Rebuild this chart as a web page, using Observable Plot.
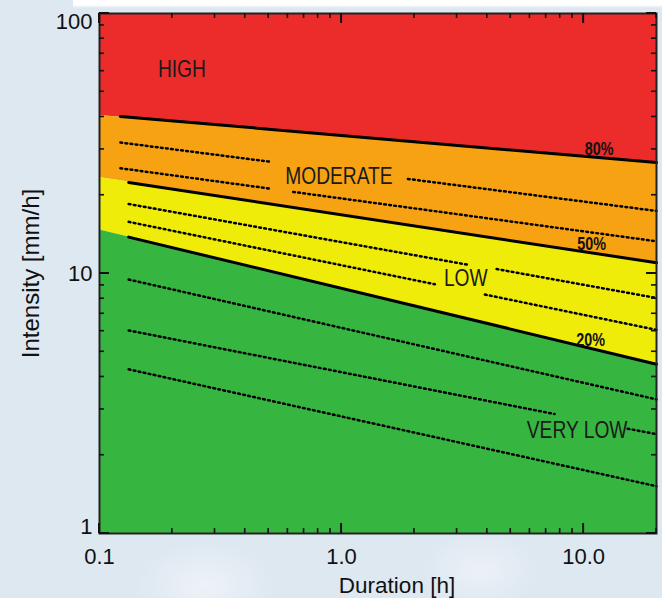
<!DOCTYPE html>
<html>
<head>
<meta charset="utf-8">
<script src="https://cdn.jsdelivr.net/npm/d3@7"></script>
<script src="https://cdn.jsdelivr.net/npm/@observablehq/plot@0.6"></script>
<style>
html, body { margin: 0; padding: 0; background: #dee8f1; }
#chart {
  position: relative; width: 662px; height: 598px; overflow: hidden;
  background:
    linear-gradient(to bottom, #ffffff 0px, #ffffff 5px, rgba(255,255,255,0) 8px) no-repeat 73px 0 / 589px 9px,
    radial-gradient(ellipse 70px 45px at 205px 585px, rgba(255,255,255,0.45), rgba(255,255,255,0)),
    radial-gradient(ellipse 60px 40px at 480px 570px, rgba(255,255,255,0.4), rgba(255,255,255,0)),
    #dee8f1;
}
#chart svg { display: block; }
</style>
</head>
<body>
<div id="chart"></div>
<script>
// ---------------- DATA ----------------
const durationDomain = [0.1, 20];
const intensityDomain = [1, 100];

// colored band boundaries at the left and right edges (duration 0.1 h and 20 h)
const bandD = [0.1, 20];
const topI = [100, 100];
const edge80 = [40.5, 26.7];
const edge50 = [23.4, 11.0];
const edge20 = [14.7, 4.48];
const bottomI = [1, 1];
const bandColors = ["#ec2b2b", "#f7a212", "#efec0a", "#37b541"];

// solid threshold lines (black)
const line80D = [0.122, 20], line80I = [40.2, 26.7];
const line50D = [0.132, 20], line50I = [22.4, 11.0];
const line20D = [0.132, 20], line20I = [13.8, 4.48];

// dotted lines, split in segments where labels interrupt them
const dotSeg = ["o1a","o1a","o1b","o1b","o2a","o2a","o2b","o2b",
                "y1a","y1a","y1b","y1b","y2a","y2a","y2b","y2b",
                "g1","g1","g2a","g2a","g2b","g2b","g3","g3"];
const dotD = [0.122, 0.507, 1.88, 20,   0.122, 0.507, 0.631, 20,
              0.132, 3.33, 4.37, 20,    0.132, 2.43, 3.91, 20,
              0.132, 20,  0.132, 7.59, 15.2, 20,  0.132, 20];
const dotI = [31.9, 26.9, 23.1, 17.4,   25.4, 21.2, 20.6, 13.3,
              18.5, 10.8, 10.4, 8.05,   15.8, 9.09, 8.30, 6.07,
              9.48, 3.28,  6.04, 2.88, 2.53, 2.41,  4.28, 1.52];

// region labels
const regionNames = ["HIGH", "MODERATE", "LOW", "VERY LOW"];
const regionLabelD = [0.219, 0.975, 3.26, 9.40];
const regionLabelI = [61.2, 23.6, 9.62, 2.50];

// percentile labels
const pctNames = ["80%", "50%", "20%"];
const pctD = [11.6, 10.8, 10.7];
const pctI = [30.1, 13.0, 5.52];

// ticks
const xMajorTicks = [0.1, 1, 10];
const xTickLabels = ["0.1", "1.0", "10.0"];
const xMinorTicks = [0.2,0.3,0.4,0.5,0.6,0.7,0.8,0.9, 2,3,4,5,6,7,8,9, 20];
const yMajorTicks = [1, 10, 100];
const yTickLabels = ["1", "10", "100"];
const yMinorTicks = [2,3,4,5,6,7,8,9, 20,30,40,50,60,70,80,90];

const xTitle = "Duration [h]";
const yTitle = "Intensity [mm/h]";

// ---------------- BUILD ----------------
const W = 662, H = 598, ML = 99, MR = 6, MT = 13, MB = 65;
const minorLen = 5, majorLen = 10;
const fLeft = ML, fRight = W - MR, fTop = MT, fBottom = H - MB;

const bandBounds = [[edge80, topI], [edge50, edge80], [edge20, edge50], [bottomI, edge20]];
const bandMarks = bandBounds.map(([lo, hi], k) =>
  Plot.areaY(bandD.map((d, j) => ({d, lo: lo[j], hi: hi[j]})),
    {x: "d", y1: "lo", y2: "hi", fill: bandColors[k], curve: "linear"}));

const solidRows = [];
[[line80D, line80I, "80"], [line50D, line50I, "50"], [line20D, line20I, "20"]].forEach(([D, I, id]) =>
  D.forEach((d, j) => solidRows.push({d, i: I[j], id})));

const dotRows = dotSeg.map((s, j) => ({seg: s, d: dotD[j], i: dotI[j]}));

const ylab = (idx, lineAnchor) => Plot.text([yTickLabels[idx]], {
  y: () => yMajorTicks[idx], text: d => d, frameAnchor: "left", textAnchor: "end",
  lineAnchor, dx: -7, fontSize: 22, fill: "#111"
});

// inward ticks drawn by a render-function mark using the plot's own scales
function tickMarks(index, scales) {
  const g = document.createElementNS("http://www.w3.org/2000/svg", "g");
  g.setAttribute("stroke", "#111");
  const add = (x1, y1, x2, y2, sw) => {
    const l = document.createElementNS("http://www.w3.org/2000/svg", "line");
    l.setAttribute("x1", x1); l.setAttribute("y1", y1);
    l.setAttribute("x2", x2); l.setAttribute("y2", y2);
    l.setAttribute("stroke-width", sw);
    g.appendChild(l);
  };
  [[xMinorTicks, minorLen, 1.6], [xMajorTicks, majorLen, 2]].forEach(([ticks, len, sw]) =>
    ticks.forEach(v => {
      const px = scales.x(v);
      add(px, fBottom, px, fBottom - len, sw);
      add(px, fTop, px, fTop + len, sw);
    }));
  [[yMinorTicks, minorLen, 1.6], [yMajorTicks, majorLen, 2]].forEach(([ticks, len, sw]) =>
    ticks.forEach(v => {
      const py = scales.y(v);
      add(fLeft, py, fLeft + len, py, sw);
      add(fRight, py, fRight - len, py, sw);
    }));
  return g;
}

const chart = Plot.plot({
  width: W,
  height: H,
  marginLeft: ML,
  marginRight: MR,
  marginTop: MT,
  marginBottom: MB,
  x: {type: "log", domain: durationDomain, axis: null},
  y: {type: "log", domain: intensityDomain, axis: null},
  style: {background: "transparent", fontFamily: "'Liberation Sans', Arial, sans-serif", color: "#111", overflow: "visible"},
  marks: [
    ...bandMarks,
    Plot.line(dotRows, {x: "d", y: "i", z: "seg", stroke: "#000", strokeWidth: 2.5, strokeDasharray: "1.8,3.3"}),
    Plot.line(solidRows, {x: "d", y: "i", z: "id", stroke: "#000", strokeWidth: 3}),
    Plot.text(regionNames, {x: (d, i) => regionLabelD[i], y: (d, i) => regionLabelI[i], text: d => d,
      fontSize: 24, fill: "#1a1a1a"}),
    Plot.text(pctNames, {x: (d, i) => pctD[i], y: (d, i) => pctI[i], text: d => d,
      fontSize: 18, fontWeight: "bold", fill: "#111"}),
    Plot.frame({stroke: "#222", strokeWidth: 2}),
    tickMarks,
    // tick labels
    Plot.axisX(xMajorTicks, {anchor: "bottom", tickSize: 0, tickPadding: 15,
      tickFormat: d => xTickLabels[xMajorTicks.indexOf(d)], label: null, fontSize: 22, fill: "#111"}),
    ylab(0, "bottom"),
    ylab(1, "middle"),
    ylab(2, "top"),
    // axis titles
    Plot.text([xTitle], {frameAnchor: "bottom", text: d => d, textAnchor: "middle", lineAnchor: "bottom", dx: 19, dy: 59, fontSize: 22.5, fill: "#111"}),
    Plot.text([yTitle], {frameAnchor: "left", text: d => d, textAnchor: "middle", rotate: -90, lineAnchor: "bottom", dx: -61, fontSize: 24, fill: "#111"})
  ]
});
document.getElementById("chart").appendChild(chart);

// condense the in-plot labels (narrow Helvetica look)
const condensed = new Set([...regionNames, ...pctNames]);
chart.querySelectorAll("text").forEach(el => {
  if (condensed.has(el.textContent)) {
    const len = el.getComputedTextLength();
    el.setAttribute("textLength", (len * 0.8).toFixed(1));
    el.setAttribute("lengthAdjust", "spacingAndGlyphs");
  }
});
</script>
</body>
</html>
